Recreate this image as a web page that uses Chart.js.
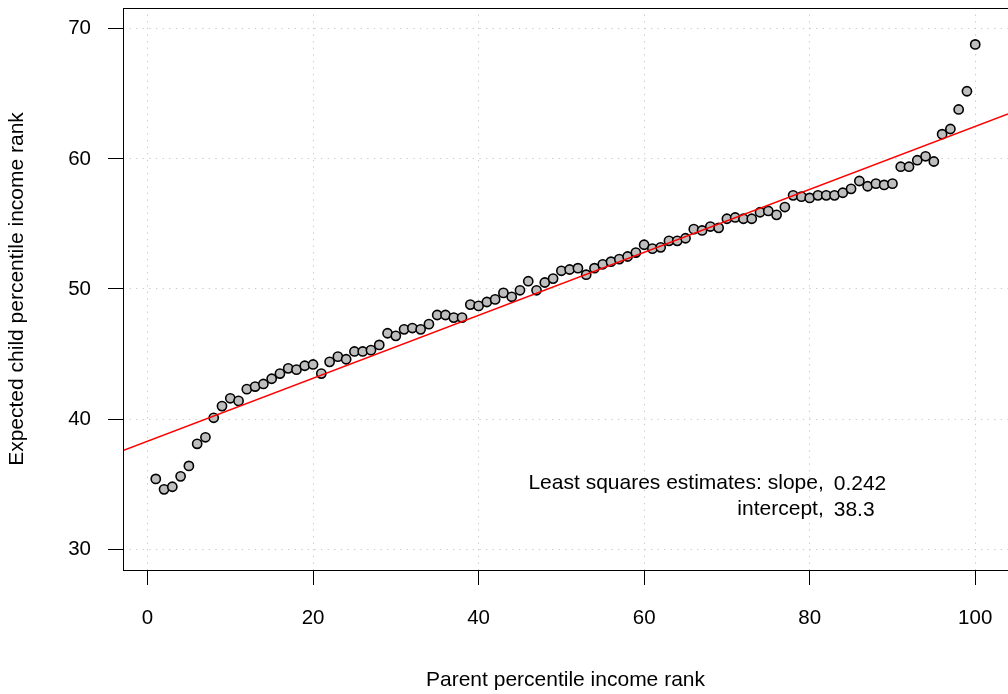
<!DOCTYPE html>
<html lang="en">
<head>
    <meta charset="UTF-8">
    <title>Parent vs child income rank</title>
    <script src="https://cdn.jsdelivr.net/npm/chart.js"></script>
    <style>
        body { margin: 0; background: #fff; }
        #wrap { width: 1008px; height: 694px; }
    </style>
</head>
<body>
    <div id="wrap"><canvas id="chart" width="1008" height="694"></canvas></div>

    <script>
        // parent percentile rank 1..100
        const parentRank = [
            1, 2, 3, 4, 5, 6, 7, 8, 9, 10,
            11, 12, 13, 14, 15, 16, 17, 18, 19, 20,
            21, 22, 23, 24, 25, 26, 27, 28, 29, 30,
            31, 32, 33, 34, 35, 36, 37, 38, 39, 40,
            41, 42, 43, 44, 45, 46, 47, 48, 49, 50,
            51, 52, 53, 54, 55, 56, 57, 58, 59, 60,
            61, 62, 63, 64, 65, 66, 67, 68, 69, 70,
            71, 72, 73, 74, 75, 76, 77, 78, 79, 80,
            81, 82, 83, 84, 85, 86, 87, 88, 89, 90,
            91, 92, 93, 94, 95, 96, 97, 98, 99, 100
        ];
        const childRank = [
            35.4, 34.6, 34.8, 35.6, 36.4, 38.1, 38.6, 40.1, 41.0, 41.6,
            41.4, 42.3, 42.5, 42.7, 43.1, 43.5, 43.9, 43.8, 44.1, 44.2,
            43.5, 44.4, 44.8, 44.6, 45.2, 45.2, 45.3, 45.7, 46.6, 46.4,
            46.9, 47.0, 46.9, 47.3, 48.0, 48.0, 47.8, 47.8, 48.8, 48.7,
            49.0, 49.2, 49.7, 49.4, 49.9, 50.6, 49.9, 50.5, 50.8, 51.4,
            51.5, 51.6, 51.1, 51.6, 51.9, 52.1, 52.3, 52.5, 52.8, 53.4,
            53.1, 53.2, 53.7, 53.7, 53.9, 54.6, 54.5, 54.8, 54.7, 55.4,
            55.5, 55.4, 55.4, 55.9, 56.0, 55.7, 56.3, 57.2, 57.1, 57.0,
            57.2, 57.2, 57.2, 57.4, 57.7, 58.3, 57.9, 58.1, 58.0, 58.1,
            59.4, 59.4, 59.9, 60.2, 59.8, 61.9, 62.3, 63.8, 65.2, 68.8
        ];
        const xTicks = [0, 20, 40, 60, 80, 100];
        const yTicks = [30, 40, 50, 60, 70];

        const slope = 0.242;
        const intercept = 38.3;

        const xMin = -2.96, xMax = 103.96;
        const yMin = 28.4, yMax = 71.6;

        const FONT = '"Liberation Sans", Arial, Helvetica, sans-serif';

        const points = parentRank.map((x, i) => ({ x: x, y: childRank[i] }));
        const fitLine = [xMin, xMax].map(x => ({ x: x, y: intercept + slope * x }));

        // chart.js reserves room for edge labels; the plot here fills the box
        function noPad(s) {
            s.paddingTop = 0;
            s.paddingBottom = 0;
            s.paddingLeft = 0;
            s.paddingRight = 0;
        }

        // full box around the plot, like R's box()
        const boxPlugin = {
            id: 'box',
            afterDraw(chart) {
                const a = chart.chartArea;
                const ctx = chart.ctx;
                ctx.save();
                ctx.strokeStyle = '#000';
                ctx.lineWidth = 1;
                ctx.strokeRect(a.left + 0.5, a.top + 0.5, a.right - a.left, a.bottom - a.top);
                ctx.restore();
            }
        };

        const notePlugin = {
            id: 'note',
            afterDraw(chart) {
                const ctx = chart.ctx;
                const xs = chart.scales.x, ys = chart.scales.y;
                const xSplit = xs.getPixelForValue(81.7);
                const y1 = ys.getPixelForValue(35.1);
                const y2 = ys.getPixelForValue(33.1);
                ctx.save();
                ctx.fillStyle = '#000';
                ctx.font = '21px ' + FONT;
                ctx.textBaseline = 'middle';
                ctx.textAlign = 'right';
                ctx.fillText('Least squares estimates: slope,', xSplit, y1);
                ctx.fillText('intercept,', xSplit, y2);
                ctx.textAlign = 'left';
                ctx.fillText(slope.toFixed(3), xSplit + 10, y1 + 1);
                ctx.fillText(intercept.toFixed(1), xSplit + 10, y2 + 1);
                ctx.restore();
            }
        };

        new Chart(document.querySelector('#chart'), {
            type: 'scatter',
            data: {
                datasets: [
                    {
                        type: 'line',
                        data: fitLine,
                        borderColor: '#ff0000',
                        borderWidth: 1.5,
                        pointRadius: 0,
                        fill: false
                    },
                    {
                        data: points,
                        backgroundColor: '#bebebe',
                        borderColor: '#000',
                        borderWidth: 1.6,
                        pointRadius: 4.6
                    }
                ]
            },
            options: {
                responsive: false,
                animation: false,
                layout: { autoPadding: false, padding: { top: 8, right: 0, left: 0, bottom: 0 } },
                plugins: { legend: { display: false }, tooltip: { enabled: false } },
                scales: {
                    x: {
                        type: 'linear',
                        min: xMin,
                        max: xMax,
                        afterFit: s => { s.height = 124; noPad(s); },
                        afterBuildTicks: s => { s.ticks = xTicks.map(v => ({ value: v })); },
                        grid: {
                            color: '#c8c8c8',
                            tickColor: '#000',
                            tickLength: 15,
                            tickBorderDash: []
                        },
                        border: { display: false, dash: [1.3, 5.3] },
                        ticks: {
                            color: '#000',
                            padding: 21,
                            maxRotation: 0,
                            font: { family: FONT, size: 20.5 }
                        },
                        title: {
                            display: true,
                            text: 'Parent percentile income rank',
                            color: '#000',
                            font: { family: FONT, size: 21 },
                            padding: { top: 0, bottom: 1.5 }
                        }
                    },
                    y: {
                        type: 'linear',
                        min: yMin,
                        max: yMax,
                        afterFit: s => { s.width = 123; noPad(s); },
                        afterBuildTicks: s => { s.ticks = yTicks.map(v => ({ value: v })); },
                        grid: {
                            color: '#c8c8c8',
                            tickColor: '#000',
                            tickLength: 15,
                            tickBorderDash: []
                        },
                        border: { display: false, dash: [1.3, 5.3] },
                        ticks: {
                            color: '#000',
                            padding: 17,
                            font: { family: FONT, size: 20.5 }
                        },
                        title: {
                            display: true,
                            text: 'Expected child percentile income rank',
                            color: '#000',
                            font: { family: FONT, size: 21 },
                            padding: { top: 4.5, bottom: 0 }
                        }
                    }
                }
            },
            plugins: [boxPlugin, notePlugin]
        });
    </script>
</body>
</html>
